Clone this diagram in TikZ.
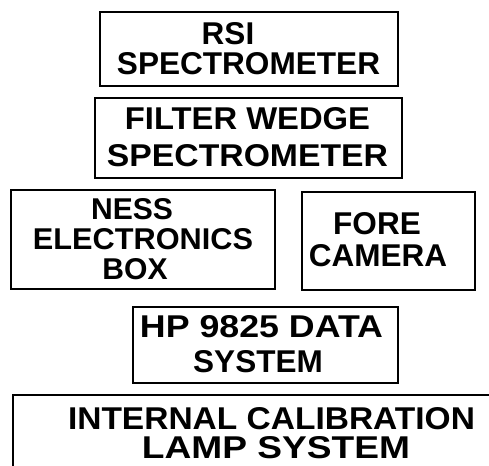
\documentclass[tikz,border=0pt]{standalone}
\usepackage{fontspec}
\setmainfont{Liberation Sans}
\usepackage{graphicx}
\newcommand{\capw}[2]{\resizebox{#1}{22pt}{\bfseries #2}}
\newcommand{\capn}[1]{\resizebox{!}{22pt}{\bfseries #1}}
\newcommand{\capm}[1]{\resizebox{!}{21pt}{\bfseries #1}}
\newcommand{\capmw}[2]{\resizebox{#1}{21pt}{\bfseries #2}}
\begin{document}
\begin{tikzpicture}[x=1pt,y=1pt,
  box/.style={draw,line width=2.5pt,inner sep=0pt},
  lbl/.style={anchor=base,inner sep=0pt}]
\useasboundingbox[fill=white] (0,0) rectangle (489,465);
% boxes
\node[box,minimum width=298pt,minimum height=74pt] (rsi) at (249,416) {};
\node[box,minimum width=307pt,minimum height=80pt] (fws) at (248.5,327) {};
\node[box,minimum width=264pt,minimum height=99pt] (ness) at (143,225.5) {};
\node[box,minimum width=173pt,minimum height=98pt] (fore) at (388.5,224) {};
\node[box,minimum width=265pt,minimum height=76pt] (hp) at (265.5,120) {};
\coordinate (lampTL) at (13,70);
\coordinate (lampBR) at (520,-20);
\draw[line width=2.5pt] (lampTL) rectangle (lampBR);
% labels
\node[lbl] (t1) at (228,420) {\capn{RSI}};
\node[lbl] (t2) at (248.5,390) {\capw{263pt}{SPECTROMETER}};
\node[lbl] (t3) at (247.5,335) {\capw{245pt}{FILTER WEDGE}};
\node[lbl] (t4) at (247.5,298) {\capw{281pt}{SPECTROMETER}};
\node[lbl] (t5) at (132,245) {\capm{NESS}};
\node[lbl] (t6) at (143,215) {\capmw{220pt}{ELECTRONICS}};
\node[lbl] (t7) at (135,185) {\capm{BOX}};
\node[lbl] (t8) at (377,230) {\capn{FORE}};
\node[lbl] (t9) at (378,198) {\capn{CAMERA}};
\node[lbl] (t10) at (261.5,127) {\capw{243pt}{HP 9825 DATA}};
\node[lbl] (t11) at (258,92) {\capn{SYSTEM}};
\node[lbl] (t12) at (271.5,36) {\capw{407pt}{INTERNAL CALIBRATION}};
\node[lbl] (t13) at (276,7) {\capw{268pt}{LAMP SYSTEM}};
\end{tikzpicture}
\end{document}
